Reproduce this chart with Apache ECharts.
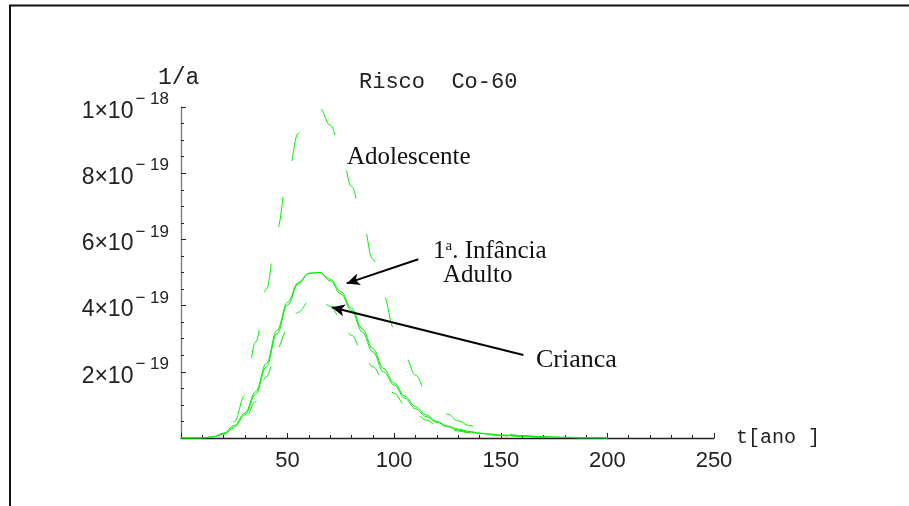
<!DOCTYPE html>
<html>
<head>
<meta charset="utf-8">
<script src="https://cdn.jsdelivr.net/npm/echarts@6/dist/echarts.min.js"></script>
<style>
html,body{margin:0;padding:0;background:#fff;}
#chart{width:909px;height:506px;}
</style>
</head>
<body>
<div id="chart"></div>
<script>
// time axis (years)
const years = [0,5,10,15,20,25,30,35,40,45,50,55,60,65,70,75,80,85,90,95,100,105,110,115,120,125,130,135,140,145,150,160,170,180,190,200];
// risk values in units of 1e-19 per year
const adolescente = [0,0,0,0.05,0.2,0.5,1.3,2.9,4.5,6.3, 7.9,9.2,9.9,9.97,9.45,8.7,7.6,6.6,5.4,4.3, 3.3,2.5,1.9,1.4,1.0,0.72,0.52,0.38,0.28,0.2, 0.14, 0.07,0.03,0.01,0,0];
const infancia = [0,0,0,0.04,0.15,0.38,0.75,1.4,2.25,3.25, 4.1,4.7,4.98,5.0,4.75,4.35,3.85,3.2,2.6,2.0, 1.6,1.2,0.88,0.65,0.47,0.34,0.24,0.18,0.14,0.11, 0.08, 0.05,0.03,0.02,0.01,0];
const adulto = [0,0,0,0.03,0.12,0.33,0.7,1.32,2.15,3.15, 4.02,4.66,4.97,5.0,4.8,4.42,3.92,3.3,2.7,2.1, 1.66,1.26,0.95,0.7,0.5,0.36,0.27,0.2,0.15,0.12, 0.09, 0.06,0.04,0.02,0.01,0];
const crianca = [0,0,0,0.03,0.12,0.3,0.58,1.1,1.85,2.7, 3.3,3.8,4.12,4.2,3.98,3.6,3.1,2.6,2.15,1.75, 1.35,1.0,0.74,0.54,0.4,0.29,0.21,0.16,0.12,0.09, 0.07, 0.04,0.02,0.01,0,0];
// tick labels
const xTicks = [50,100,150,200,250];
const yTicks = {2:['2','19'],4:['4','19'],6:['6','19'],8:['8','19'],10:['1','18']};
// annotation arrows [from, to] in data units
const arrowInfancia = [[111.3,5.4],[77.7,4.67]];
const arrowCrianca = [[160.6,2.51],[70.7,3.95]];

const pair = arr => years.map((t,i)=>[t,arr[i]]);
const green = '#00ee00';
const chart = echarts.init(document.getElementById('chart'), null, {renderer:'canvas'});
const arrowLine = (a) => ({
  type:'line', data:[], silent:true,
  markLine:{
    silent:true, animation:false, symbol:['none','arrow'], symbolSize:[9,13],
    label:{show:false},
    lineStyle:{color:'#000', width:2, type:'solid'},
    data:[[{coord:a[0]},{coord:a[1]}]]
  }
});
chart.setOption({
  animation:false,
  backgroundColor:'#fff',
  grid:{left:181,right:195,top:107,bottom:68,containLabel:false},
  xAxis:{
    type:'value', min:0, max:250, interval:50,
    name:'t[ano ]', nameLocation:'end', nameGap:22,
    nameTextStyle:{fontFamily:'Liberation Mono', fontSize:20, color:'#222', verticalAlign:'middle', padding:[2,0,0,0]},
    axisLine:{show:true, onZero:false, lineStyle:{color:'#222', width:1.3}},
    axisTick:{show:true, inside:true, length:5, lineStyle:{color:'#222', width:1}},
    minorTick:{show:true, splitNumber:5, length:3, lineStyle:{color:'#222', width:1}},
    splitLine:{show:false},
    axisLabel:{
      margin:12, fontFamily:'Liberation Sans', fontSize:22, color:'#222',
      formatter: v => xTicks.includes(v) ? String(v) : ''
    }
  },
  yAxis:{
    type:'value', min:0, max:10, interval:2,
    axisLine:{show:true, lineStyle:{color:'#777', width:1.3}},
    axisTick:{show:true, inside:true, length:5, lineStyle:{color:'#222', width:1}},
    minorTick:{show:true, splitNumber:4, length:3, lineStyle:{color:'#222', width:1}},
    splitLine:{show:false},
    axisLabel:{
      margin:12, color:'#222',
      formatter: v => yTicks[v] ? '{a|'+yTicks[v][0]+'×10}{b|− '+yTicks[v][1]+'}' : '',
      rich:{
        a:{fontFamily:'Liberation Sans', fontSize:23, lineHeight:23, padding:[9,2,0,0], color:'#222'},
        b:{fontFamily:'Liberation Sans', fontSize:17, lineHeight:17, padding:[0,0,15,0], color:'#222'}
      }
    }
  },
  series:[
    {name:'Adolescente', type:'line', data:pair(adolescente), showSymbol:false, smooth:0.4, smoothMonotone:'x',
     lineStyle:{color:green, width:1, type:[30,38], dashOffset:10}},
    {name:'1ª. Infância', type:'line', data:pair(infancia), showSymbol:false, smooth:0.4, smoothMonotone:'x',
     lineStyle:{color:green, width:1, type:'solid'}},
    {name:'Adulto', type:'line', data:pair(adulto), showSymbol:false, smooth:0.4, smoothMonotone:'x',
     lineStyle:{color:green, width:1, type:'solid'}},
    {name:'Crianca', type:'line', data:pair(crianca), showSymbol:false, smooth:0.4, smoothMonotone:'x',
     lineStyle:{color:green, width:1, type:[16,22]}},
    arrowLine(arrowInfancia),
    arrowLine(arrowCrianca)
  ],
  graphic:[
    {type:'line', shape:{x1:9, y1:5.5, x2:909, y2:5.5}, style:{stroke:'#111', lineWidth:2}, silent:true},
    {type:'line', shape:{x1:10, y1:5, x2:10, y2:506}, style:{stroke:'#111', lineWidth:2}, silent:true},
    {type:'text', left:158, top:66, silent:true,
     style:{text:'1/a', font:'23px "Liberation Mono"', fill:'#222'}},
    {type:'text', left:359, top:71, silent:true,
     style:{text:'Risco  Co-60', font:'22px "Liberation Mono"', fill:'#222'}},
    {type:'text', left:347, top:145, silent:true,
     style:{text:'Adolescente', font:'25px "Liberation Serif"', fill:'#111'}},
    {type:'text', left:433, top:239, silent:true,
     style:{text:'{n|1}{s|a}{n|. Infância}', fill:'#111',
       rich:{n:{font:'25px "Liberation Serif"', fill:'#111', lineHeight:25},
             s:{font:'15px "Liberation Serif"', fill:'#111', lineHeight:15, padding:[0,0,10,0]}}}},
    {type:'text', left:443, top:263, silent:true,
     style:{text:'Adulto', font:'25px "Liberation Serif"', fill:'#111'}},
    {type:'text', left:536, top:347, silent:true,
     style:{text:'Crianca', font:'26px "Liberation Serif"', fill:'#111'}}
  ]
});
</script>
</body>
</html>
